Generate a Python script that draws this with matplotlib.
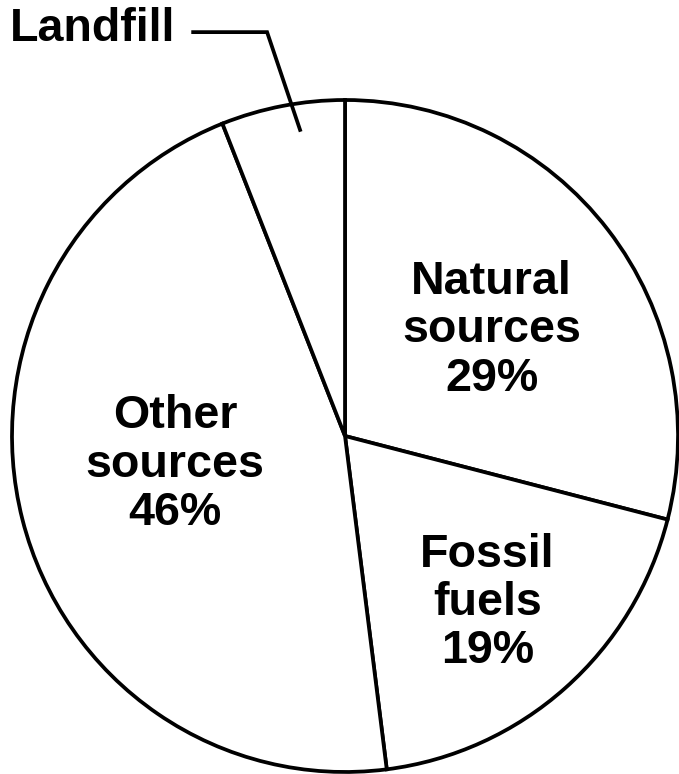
import numpy as np
import matplotlib
matplotlib.use("Agg")
import matplotlib.pyplot as plt

# pie data, clockwise from 12 o'clock
labels = ["Natural\nsources\n29%", "Fossil\nfuels\n19%", "Other\nsources\n46%", "Landfill"]
shares = [29, 19, 46, 6]

plt.rcParams['font.family'] = ['Liberation Sans', 'DejaVu Sans']

fig = plt.figure(figsize=(6.79, 7.74), dpi=100)
ax = fig.add_axes([0.01767, 0.0026, 0.9809, 0.8682])

wedges, _ = ax.pie(shares, startangle=90, counterclock=False, radius=1,
                   colors=['white'] * 4,
                   wedgeprops=dict(edgecolor='black', linewidth=2.7))
for w in wedges:
    w.set_clip_on(False)

ax.set_xlim(-1, 1)
ax.set_ylim(-1, 1)
ax.set_aspect('auto')
ax.axis('off')

fs = 33.6
pos = [(0.44, 0.315), (0.428, -0.497), (-0.51, -0.086)]
for lab, (x, y) in zip(labels[:3], pos):
    ax.text(x, y, lab, ha='center', va='center', fontsize=fs,
            fontweight='bold', linespacing=1.13)

# landfill label with leader line
ax.text(-0.51, 1.21, labels[3], ha='right', va='center', fontsize=fs,
        fontweight='bold', clip_on=False)
ax.plot([-0.456, -0.234, -0.135], [1.202, 1.202, 0.911], color='black',
        linewidth=2.7, clip_on=False, solid_joinstyle='miter')

fig.savefig('out.png', dpi=100, facecolor='white')
